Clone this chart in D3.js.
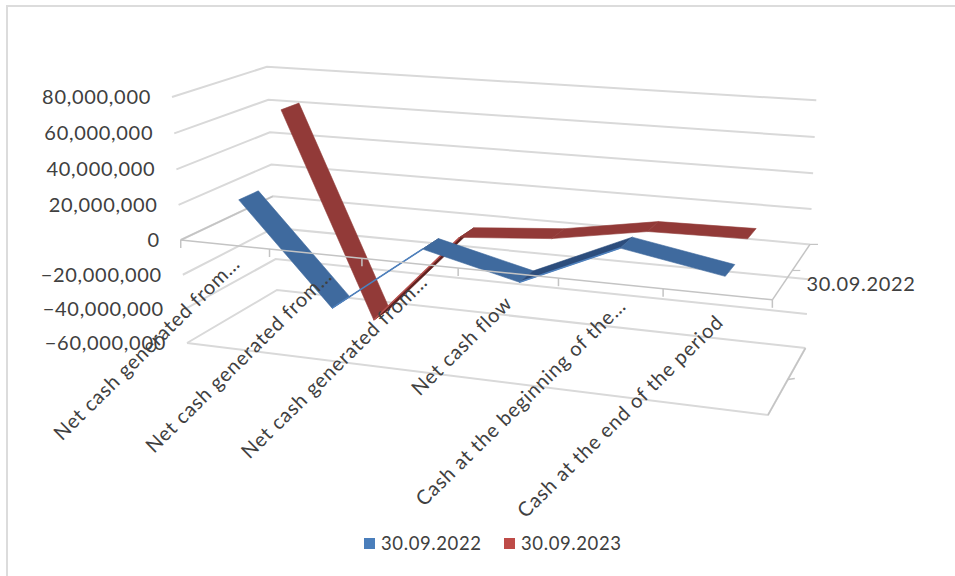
<!DOCTYPE html>
<html>
<head>
<meta charset="utf-8">
<script src="https://cdn.jsdelivr.net/npm/d3@7/dist/d3.min.js"></script>
<style>
  html, body { margin: 0; padding: 0; background: #fff; }
  svg { display: block; }
  text { font-family: Lato, "Open Sans", sans-serif; fill: #404040; }
</style>
</head>
<body>
<svg id="chart" width="955" height="576"></svg>
<script>
// Chart content
const categories = [
  "Net cash generated from\u2026",
  "Net cash generated from\u2026",
  "Net cash generated from\u2026",
  "Net cash flow",
  "Cash at the beginning of the\u2026",
  "Cash at the end of the period"
];
const seriesNames = ["30.09.2022", "30.09.2023"];
const values2022 = [21000000, -36000000, 3000000, -10000000, 13800000, 4200000];
const values2023 = [62000000, -59500000, -4300000, 0, 9000000, 9900000];
const valueTicks = [80000000, 60000000, 40000000, 20000000, 0, -20000000, -40000000, -60000000];

// Colours
const ribbonFill = { "30.09.2022": "#3f6a9e", "30.09.2023": "#923a38" };
const ribbonShade = { "30.09.2022": "#2c4d7c", "30.09.2023": "#5e1f1d" };
const ribbonEdge = { "30.09.2022": "#4f81bd", "30.09.2023": "#b5504d" };
const legendFill = { "30.09.2022": "#4a7ebb", "30.09.2023": "#be4b48" };
const gridColor = "#d9d9d9";
const axisColor = "#c4c4c4";

// Unit-box scales: x runs along categories, y up the values, z into the page
const xScale = d3.scaleBand().domain(d3.range(categories.length)).range([0, 1]);
const yScale = d3.scaleLinear().domain([-60000000, 80000000]).range([0, 1]);
const zScale = d3.scaleBand().domain(seriesNames).range([0.02, 1.02]);
const ribbonDepth = zScale.bandwidth() * 0.42;

// Camera: the screen positions of the box's corners, and perspective terms
const boxOrigin = [187, 343], boxX = [768, 415], boxY = [172, 97], boxZ = [277, 290];
const persp = [-0.115, -0.04, 0.1076];

function project(x, y, z) {
  const d = 1 + persp[0] * x + persp[1] * y + persp[2] * z;
  const coord = i =>
    (boxOrigin[i] +
      (boxX[i] * (1 + persp[0]) - boxOrigin[i]) * x +
      (boxY[i] * (1 + persp[1]) - boxOrigin[i]) * y +
      (boxZ[i] * (1 + persp[2]) - boxOrigin[i]) * z) / d;
  return [coord(0), coord(1)];
}

const svg = d3.select("#chart");
const path = d3.line();
const polyline = (g, pts, color, width) =>
  g.append("path").attr("d", path(pts)).attr("fill", "none")
    .attr("stroke", color).attr("stroke-width", width);

// Chart area frame: top and left sides only
polyline(svg, [[7, 576], [7, 6], [955, 6]], "#dcdcdc", 2);

// Gridlines along the left and back walls
const walls = svg.append("g");
const zeroY = yScale(0);
valueTicks.forEach(v => {
  const y = yScale(v);
  polyline(walls, [project(0, y, 0), project(0, y, 1), project(1, y, 1)], gridColor, 2);
});

// Bottom plane at the axis minimum
const floor = svg.append("g");
polyline(floor, [project(0, 0, 0), project(1, 0, 0), project(1, 0, 1)], gridColor, 2);
const floorMid = project(1, 0, 0.5);
polyline(floor, [floorMid, [floorMid[0] + 7, floorMid[1] - 1]], axisColor, 1.5);
polyline(floor, [project(1, 0, 0), project(1, 0, 1)], axisColor, 1.5);

// Plane at zero: its side edges with depth tick marks
const zeroPlane = svg.append("g");
polyline(zeroPlane, [project(0, zeroY, 0), project(0, zeroY, 1)], axisColor, 1.5);
polyline(zeroPlane, [project(1, zeroY, 0), project(1, zeroY, 1)], axisColor, 1.5);
[0.5, 1].forEach(z => {
  const p = project(1, zeroY, z);
  polyline(zeroPlane, [p, [p[0] + 8, p[1]]], axisColor, 1.2);
});

// One flat ribbon per series, back series first
function drawRibbon(name, values) {
  const z0 = zScale(name) + (zScale.bandwidth() - ribbonDepth) / 2;
  const z1 = z0 + ribbonDepth;
  const at = i => xScale(i) + xScale.bandwidth() / 2;
  const front = values.map((v, i) => project(at(i), yScale(v), z0));
  const back = values.map((v, i) => project(at(i), yScale(v), z1));
  const g = svg.append("g");
  d3.pairs(d3.range(values.length)).forEach(([a, b]) => {
    // Steeply rising stretches show the ribbon's underside
    const rising = values[b] > values[a] + 10000000;
    const fill = rising ? ribbonShade[name] : ribbonFill[name];
    g.append("path")
      .attr("d", path([front[a], front[b], back[b], back[a]]) + "Z")
      .attr("fill", fill).attr("stroke", fill).attr("stroke-width", 0.6)
      .attr("stroke-linejoin", "round");
    if (rising) polyline(g, [front[a], front[b]], ribbonEdge[name], 1.6);
  });
}
drawRibbon(seriesNames[1], values2023);
drawRibbon(seriesNames[0], values2022);

// Category axis sits in front of the ribbons
const catAxis = svg.append("g");
polyline(catAxis, [project(0, zeroY, 0), project(1, zeroY, 0)], axisColor, 1.5);
d3.range(categories.length + 1).forEach(i => {
  const p = project(i / categories.length, zeroY, 0);
  polyline(catAxis, [p, [p[0], p[1] + 8]], axisColor, 1.5);
});

// Value axis labels
svg.append("g").selectAll("text").data(valueTicks).join("text")
  .attr("x", d => project(0, yScale(d), 0)[0] - 21)
  .attr("y", d => project(0, yScale(d), 0)[1] + 7)
  .attr("text-anchor", "end")
  .attr("font-size", 20).attr("letter-spacing", 0.7)
  .text(d => d3.format(",")(d));

// Rotated category labels, hung from the axis with per-label adjustments
const labelNudge = [[-2, 2], [2, 4], [6, -1], [-5, 9], [9, 0], [2, 4]];
svg.append("g").selectAll("text").data(categories).join("text")
  .attr("text-anchor", "end")
  .attr("font-size", 20).attr("letter-spacing", 0.8)
  .attr("transform", (d, i) => {
    const u = xScale(i) + xScale.bandwidth() / 2;
    const p = project(u, zeroY, 0);
    const dx = 20 - 16 * u + labelNudge[i][0];
    const dy = 18 + 8 * u + labelNudge[i][1];
    return `translate(${p[0] + dx},${p[1] + dy}) rotate(-44.5)`;
  })
  .text(d => d);

// Series label beside the depth axis
const depthAnchor = project(1, zeroY, zScale(seriesNames[0]) + zScale.bandwidth() / 2);
svg.append("text")
  .attr("x", depthAnchor[0] + 23).attr("y", depthAnchor[1] + 7)
  .attr("font-size", 20).attr("letter-spacing", 0.7)
  .text(seriesNames[0]);

// Legend
const legendX = d3.scaleOrdinal().domain(seriesNames).range([364, 504]);
const legend = svg.append("g").selectAll("g").data(seriesNames).join("g")
  .attr("transform", d => `translate(${legendX(d)},538)`);
legend.append("rect").attr("width", 11).attr("height", 11).attr("fill", d => legendFill[d]);
legend.append("text").attr("x", 17).attr("y", 12)
  .attr("font-size", 18.5).attr("letter-spacing", 0.6).text(d => d);
</script>
</body>
</html>
